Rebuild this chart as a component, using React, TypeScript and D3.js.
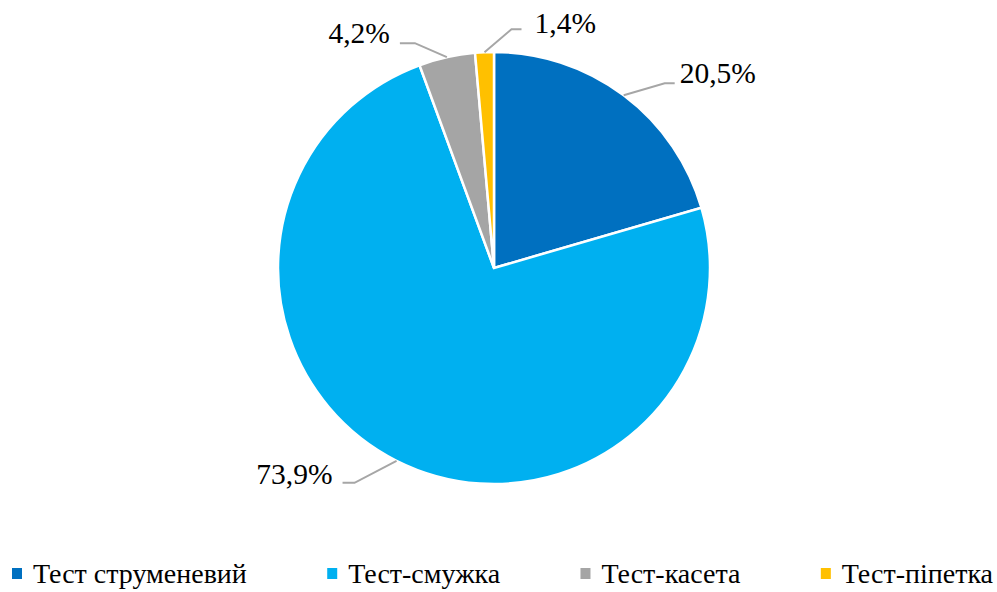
import { useEffect, useRef } from "react";
import * as d3 from "d3";

const W = 997;
const H = 592;
const CX = 494;
const CY = 268;
const R = 216;
const FONT = "'Liberation Serif', 'Times New Roman', serif";

// дані
const categories = ["Тест струменевий", "Тест-смужка", "Тест-касета", "Тест-піпетка"];
const values = [20.5, 73.9, 4.2, 1.4];
const colors = ["#0070C0", "#00B0F0", "#A5A5A5", "#FFC000"];

// виноски: злам відносно точки на дузі, довжина горизонталі, бік тексту
const leaders = [
  { dx: 41, dy: -12, run: 10, side: 1, gap: 5, ty: 0 },
  { dx: -42, dy: 22, run: -12, side: -1, gap: 10, ty: 1 },
  { dx: -32, dy: -14, run: -15, side: -1, gap: 10, ty: 0 },
  { dx: 27, dy: -23, run: 10, side: 1, gap: 13, ty: 4 },
];

const fmt = (v: number) => v.toFixed(1).replace(".", ",") + "%";

export default function App() {
  const svgRef = useRef<SVGSVGElement>(null);

  useEffect(() => {
    if (!svgRef.current) return;
    const svg = d3.select(svgRef.current);
    svg.selectAll("*").remove();

    const pie = d3.pie<number>().sort(null).value((d) => d);
    const arcs = pie(values);
    const arc = d3.arc<d3.PieArcDatum<number>>().innerRadius(0).outerRadius(R);
    const edge = d3.arc<d3.PieArcDatum<number>>().innerRadius(R).outerRadius(R);

    const g = svg.append("g").attr("transform", `translate(${CX},${CY})`);

    g.selectAll("path.slice")
      .data(arcs)
      .join("path")
      .attr("class", "slice")
      .attr("d", (d) => arc(d) as string)
      .attr("fill", (_, i) => colors[i])
      .attr("stroke", "#ffffff")
      .attr("stroke-width", 2.5)
      .attr("stroke-linejoin", "miter");

    // підписи з виносками
    arcs.forEach((d, i) => {
      const [px, py] = edge.centroid(d);
      const L = leaders[i];
      const ex = px + L.dx;
      const ey = py + L.dy;
      const hx = ex + L.run;
      g.append("polyline")
        .attr("points", `${px},${py} ${ex},${ey} ${hx},${ey}`)
        .attr("fill", "none")
        .attr("stroke", "#A6A6A6")
        .attr("stroke-width", 2);
      g.append("text")
        .attr("x", hx + L.side * L.gap)
        .attr("y", ey + L.ty)
        .attr("text-anchor", L.side > 0 ? "start" : "end")
        .style("font-family", FONT)
        .style("font-size", "29.5px")
        .attr("fill", "#000")
        .text(fmt(values[i]));
    });

    // легенда: елементи розподілено між x=12 і x=993
    const lg = svg.append("g").attr("transform", `translate(12, 583)`);
    const items = categories.map((c, i) => {
      const item = lg.append("g");
      item.append("rect")
        .attr("x", 0).attr("y", -15)
        .attr("width", 10).attr("height", 11)
        .attr("fill", colors[i]);
      const t = item.append("text")
        .attr("x", 21).attr("y", 0)
        .style("font-family", FONT)
        .style("font-size", "28px")
        .attr("fill", "#000")
        .text(c);
      return { item, w: 21 + (t.node() as SVGTextElement).getComputedTextLength() };
    });
    const total = d3.sum(items, (d) => d.w);
    const gap = (981 - total) / (items.length - 1);
    let x = 0;
    items.forEach(({ item, w }) => {
      item.attr("transform", `translate(${x},0)`);
      x += w + gap;
    });
  }, []);

  return (
    <svg
      ref={svgRef}
      width={W}
      height={H}
      viewBox={`0 0 ${W} ${H}`}
      style={{ position: "absolute", left: 0, top: 0, background: "#fff" }}
    />
  );
}
